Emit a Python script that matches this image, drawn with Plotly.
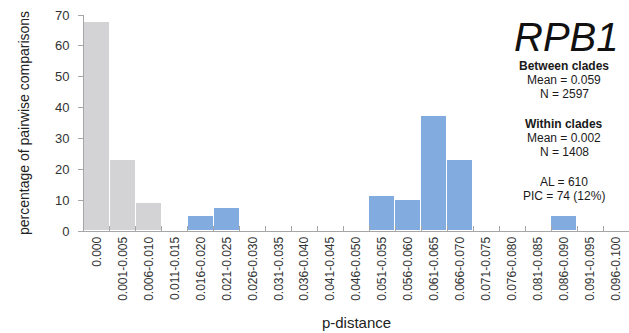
import plotly.graph_objects as go

categories = ["0.000", "0.001-0.005", "0.006-0.010", "0.011-0.015", "0.016-0.020",
              "0.021-0.025", "0.026-0.030", "0.031-0.035", "0.036-0.040", "0.041-0.045",
              "0.046-0.050", "0.051-0.055", "0.056-0.060", "0.061-0.065", "0.066-0.070",
              "0.071-0.075", "0.076-0.080", "0.081-0.085", "0.086-0.090", "0.091-0.095",
              "0.096-0.100"]
within_clades = [67.6, 23.1, 9.2, 0, 0, 0, 0, 0, 0, 0, 0,
                 0, 0, 0, 0, 0, 0, 0, 0, 0, 0]
between_clades = [0, 0, 0, 0, 4.8, 7.3, 0.3, 0, 0, 0, 0,
                  11.2, 10.2, 37.4, 22.9, 0.4, 0, 0, 4.8, 0, 0]
y_ticks = [0, 10, 20, 30, 40, 50, 60, 70]

info_lines = [
    ("<b>Between clades</b>", 66),
    ("Mean = 0.059", 80),
    ("N = 2597", 94),
    ("<b>Within clades</b>", 124),
    ("Mean = 0.002", 138),
    ("N = 1408", 152),
    ("AL = 610", 182),
    ("PIC = 74 (12%)", 196),
]

W, H = 629, 333
FONT = "Liberation Sans, Arial, sans-serif"

fig = go.Figure()
fig.add_trace(go.Bar(x=categories, y=within_clades, name="Within clades",
                     marker=dict(color="#d3d3d5", line=dict(color="white", width=1))))
fig.add_trace(go.Bar(x=categories, y=between_clades, name="Between clades",
                     marker=dict(color="#82acdf", line=dict(color="white", width=1))))

annotations = [dict(text="<i>RPB1</i>", x=566, y=37, showarrow=False,
                    font=dict(family=FONT, size=40, color="#111111"))]
for txt, ypx in info_lines:
    annotations.append(dict(text=txt, x=564, y=ypx, showarrow=False,
                            font=dict(family=FONT, size=12, color="#1a1a1a")))
# convert pixel positions to paper coords
for a in annotations:
    a["xref"] = "paper"
    a["yref"] = "paper"
    a["x"] = (a["x"] - 84) / (W - 84)
    a["y"] = (231 - a["y"]) / 216.0
    a["xanchor"] = "center"
    a["yanchor"] = "middle"

fig.update_layout(
    width=W, height=H,
    margin=dict(l=84, r=0, t=15, b=102),
    barmode="stack", bargap=0,
    plot_bgcolor="white", paper_bgcolor="white",
    showlegend=False,
    font=dict(family=FONT, color="#333333"),
    annotations=annotations,
    xaxis=dict(
        type="category", tickangle=-90, tickfont=dict(size=12, color="#333333"),
        showline=True, linecolor="#a6a6a6", linewidth=1,
        ticks="inside", tickson="boundaries", ticklen=5, tickcolor="#a6a6a6",
        title=dict(text="p-distance", font=dict(size=15, color="#222222"), standoff=17),
        range=[-0.5, 20.5], fixedrange=True,
    ),
    yaxis=dict(
        range=[0, 70], tickvals=y_ticks, tickfont=dict(size=13, color="#333333"),
        showline=True, linecolor="#a6a6a6", linewidth=1, showgrid=False,
        ticks="outside", ticklen=5, tickcolor="#a6a6a6", zeroline=False,
        ticklabelstandoff=6,
        title=dict(text="percentage of pairwise comparisons",
                   font=dict(size=14, color="#222222"), standoff=22),
    ),
)

fig.write_html("out.html")
